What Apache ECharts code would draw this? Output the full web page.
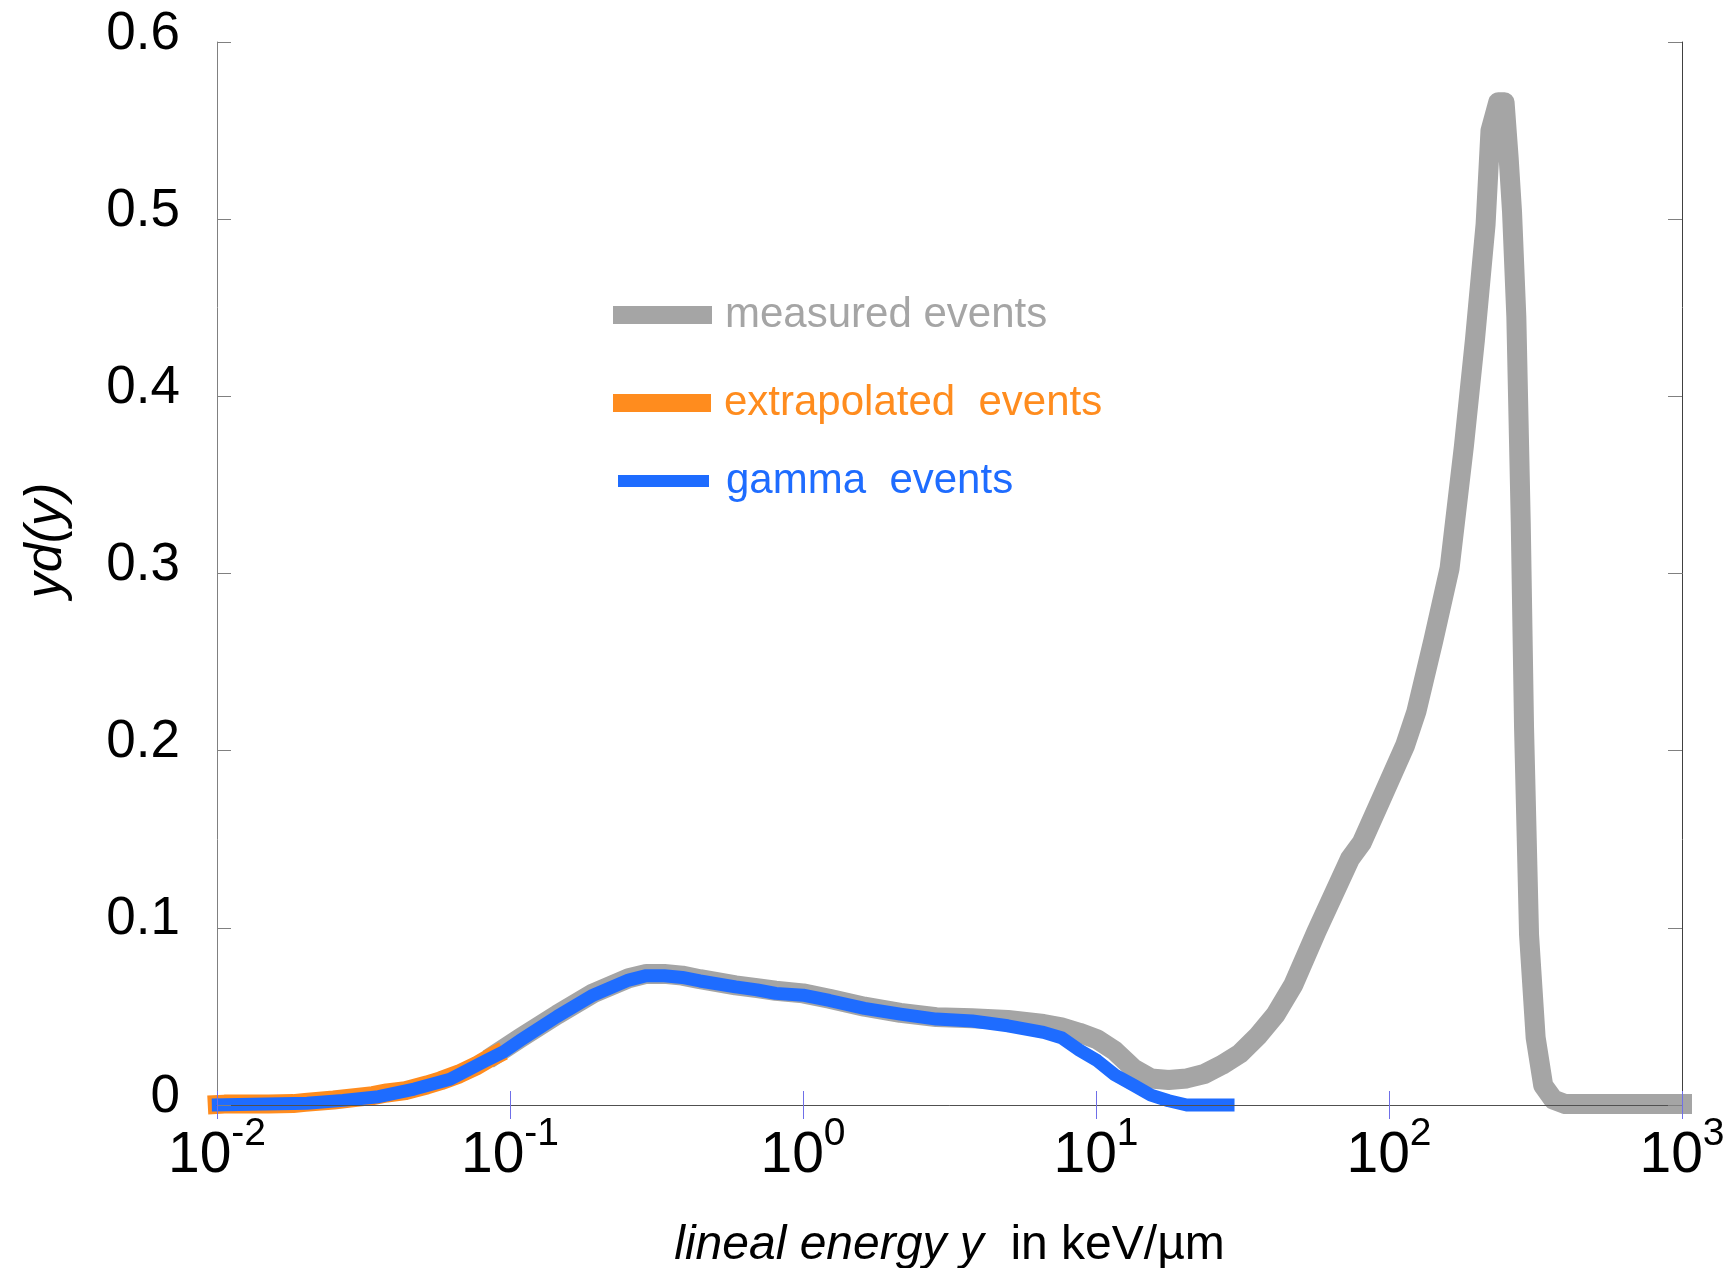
<!DOCTYPE html>
<html>
<head>
<meta charset="utf-8">
<script src="https://cdn.jsdelivr.net/npm/echarts@6/dist/echarts.min.js"></script>
<style>html,body{margin:0;padding:0;background:#fff}#c{width:1735px;height:1268px}</style>
</head>
<body>
<div id="c"></div>
<script>
// ---- data ----
const seriesNames = ['measured events', 'extrapolated  events', 'gamma  events'];

const measuredX = [0.09, 0.109, 0.145, 0.192, 0.254, 0.292, 0.336, 0.387, 0.445, 0.589, 0.697, 0.807, 1.0, 1.23, 1.62, 2.15, 2.85, 3.78, 5.0, 6.62, 7.62, 8.77, 10.1, 11.6, 13.4, 15.4, 17.7, 20.4, 23.4, 26.9, 31.0, 35.7, 41.0, 47.2, 56.6, 73.6, 80.7, 95.5, 113.5, 124, 141.6, 161, 180.2, 196.5, 213.6, 222, 236, 248, 256, 263, 272, 281.6, 289, 300.6, 316.6, 336, 364, 400, 1000];
const measuredY = [0.029, 0.038, 0.051, 0.063, 0.0715, 0.074, 0.074, 0.073, 0.071, 0.0675, 0.066, 0.0645, 0.063, 0.060, 0.0555, 0.052, 0.0496, 0.049, 0.048, 0.0457, 0.0438, 0.0408, 0.037, 0.0305, 0.0207, 0.015, 0.0141, 0.015, 0.0175, 0.0226, 0.029, 0.039, 0.051, 0.068, 0.098, 0.139, 0.148, 0.175, 0.203, 0.222, 0.262, 0.303, 0.372, 0.432, 0.497, 0.55, 0.566, 0.566, 0.535, 0.504, 0.445, 0.329, 0.213, 0.096, 0.038, 0.011, 0.003, 0.0005, 0.0005];

const extrapX = [0.0093, 0.0106, 0.015, 0.0182, 0.020, 0.025, 0.030, 0.034, 0.038, 0.044, 0.047, 0.052, 0.058, 0.067, 0.077, 0.086, 0.095];
const extrapY = [0.0, 0.0005, 0.0006, 0.0008, 0.0015, 0.0028, 0.0043, 0.0053, 0.0068, 0.0081, 0.0094, 0.0113, 0.0137, 0.0175, 0.0222, 0.0269, 0.0306];

const gammaX = [0.0096, 0.0203, 0.0269, 0.0356, 0.0471, 0.0624, 0.0826, 0.095, 0.109, 0.145, 0.192, 0.254, 0.292, 0.336, 0.387, 0.445, 0.589, 0.697, 0.807, 1.0, 1.23, 1.62, 2.15, 2.85, 3.78, 5.0, 6.62, 7.62, 8.77, 10.1, 11.6, 13.4, 15.4, 17.7, 20.4, 29.7];
const gammaY = [0.0, 0.001, 0.0026, 0.0047, 0.009, 0.0145, 0.025, 0.030, 0.0367, 0.050, 0.062, 0.0705, 0.073, 0.073, 0.072, 0.070, 0.0667, 0.065, 0.063, 0.062, 0.059, 0.0545, 0.0513, 0.0485, 0.0474, 0.0447, 0.041, 0.038, 0.031, 0.025, 0.017, 0.0113, 0.0056, 0.0024, 0.0, 0.0];

const xMin = 0.01, xMax = 1000;
const yMin = 0, yMax = 0.6, yStep = 0.1;
const xAxisName = ['lineal energy y', '  in keV/\u00b5m'];
const yAxisName = 'yd(y)';

// ---- chart ----
const zip = (a, b) => a.map((v, i) => [v, b[i]]);
const FONT = '"Liberation Sans", Arial, sans-serif';
const GREY = '#A5A5A5', ORANGE = '#FF8C1E', BLUE = '#1E6CFF';

const chart = echarts.init(document.getElementById('c'), null, {renderer: 'canvas'});

function legendBox(name, color, left, top, w, h, pad) {
  return {
    show: true, data: [name], orient: 'vertical', left: left, top: top, padding: 0,
    icon: 'rect', itemWidth: w, itemHeight: h, selectedMode: false,
    itemStyle: {color: color},
    textStyle: {color: color, fontFamily: FONT, fontSize: 42, lineHeight: 44, padding: [0, 0, 0, pad]}
  };
}

chart.setOption({
  animation: false,
  backgroundColor: '#fff',
  grid: {left: 217, right: 53, top: 42, bottom: 163, containLabel: false, outerBoundsMode: 'none'},
  legend: [
    legendBox(seriesNames[0], GREY, 613, 293, 99, 18, 8),
    legendBox(seriesNames[1], ORANGE, 613, 381, 98, 18, 8),
    legendBox(seriesNames[2], BLUE, 618, 459, 91, 12, 12)
  ],
  xAxis: [{
    type: 'log', logBase: 10, min: xMin, max: xMax, position: 'bottom', z: 10,
    axisLine: {show: true, lineStyle: {color: '#8a8a8a', width: 1}},
    axisTick: {show: true, inside: true, length: 14, lineStyle: {color: '#6f6fe8', width: 1}},
    minorTick: {show: false},
    splitLine: {show: false},
    axisLabel: {
      margin: 10,
      formatter: function (v) { return '{b|10}{s|' + Math.round(Math.log10(v)) + '}'; },
      rich: {
        b: {fontFamily: FONT, fontSize: 57, color: '#000', lineHeight: 70, verticalAlign: 'bottom'},
        s: {fontFamily: FONT, fontSize: 39, color: '#000', lineHeight: 70, verticalAlign: 'top'}
      }
    },
    name: '{i|' + xAxisName[0] + '}{n|' + xAxisName[1] + '}',
    nameLocation: 'middle', nameGap: 117,
    nameTextStyle: {
      rich: {
        i: {fontFamily: FONT, fontSize: 48, fontStyle: 'italic', color: '#000'},
        n: {fontFamily: FONT, fontSize: 48, color: '#000'}
      }
    }
  }, {
    type: 'log', logBase: 10, min: xMin, max: xMax, position: 'top', z: 10,
    axisLine: {show: true, lineStyle: {color: '#505050', width: 1}},
    axisTick: {show: true, inside: true, length: 14, lineStyle: {color: '#6f6fe8', width: 1}},
    axisLabel: {show: false}, splitLine: {show: false}
  }],
  yAxis: [{
    type: 'value', min: yMin, max: yMax, interval: yStep, position: 'left', z: 10,
    axisLine: {show: true, lineStyle: {color: '#808080', width: 1}},
    axisTick: {show: true, inside: true, length: 14, lineStyle: {color: '#808080', width: 1}},
    splitLine: {show: false},
    axisLabel: {fontFamily: FONT, fontSize: 53, color: '#000', margin: 37, lineHeight: 16, verticalAlign: 'bottom'},
    name: yAxisName, nameLocation: 'middle', nameRotate: 90, nameGap: 144,
    nameTextStyle: {fontFamily: FONT, fontSize: 52, fontStyle: 'italic', color: '#000', padding: [0, 0, 0, 66]}
  }, {
    type: 'value', min: yMin, max: yMax, interval: yStep, position: 'right', z: 10,
    axisLine: {show: true, lineStyle: {color: '#404040', width: 1}},
    axisTick: {show: true, inside: true, length: 14, lineStyle: {color: '#808080', width: 1}},
    axisLabel: {show: false}, splitLine: {show: false}
  }],
  series: [{
    name: seriesNames[0], type: 'line', xAxisIndex: 0, yAxisIndex: 0,
    data: zip(measuredX, measuredY), showSymbol: false, clip: false,
    lineStyle: {color: GREY, width: 20, cap: 'square', join: 'round'}, itemStyle: {color: GREY}, z: 2
  }, {
    name: seriesNames[1], type: 'line', xAxisIndex: 0, yAxisIndex: 0,
    data: zip(extrapX, extrapY), showSymbol: false, clip: false,
    lineStyle: {color: ORANGE, width: 19, join: 'round'}, itemStyle: {color: ORANGE}, z: 3
  }, {
    name: seriesNames[2], type: 'line', xAxisIndex: 0, yAxisIndex: 0,
    data: zip(gammaX, gammaY), showSymbol: false, clip: false,
    lineStyle: {color: BLUE, width: 13, join: 'round'}, itemStyle: {color: BLUE}, z: 4
  }]
});
</script>
</body>
</html>
